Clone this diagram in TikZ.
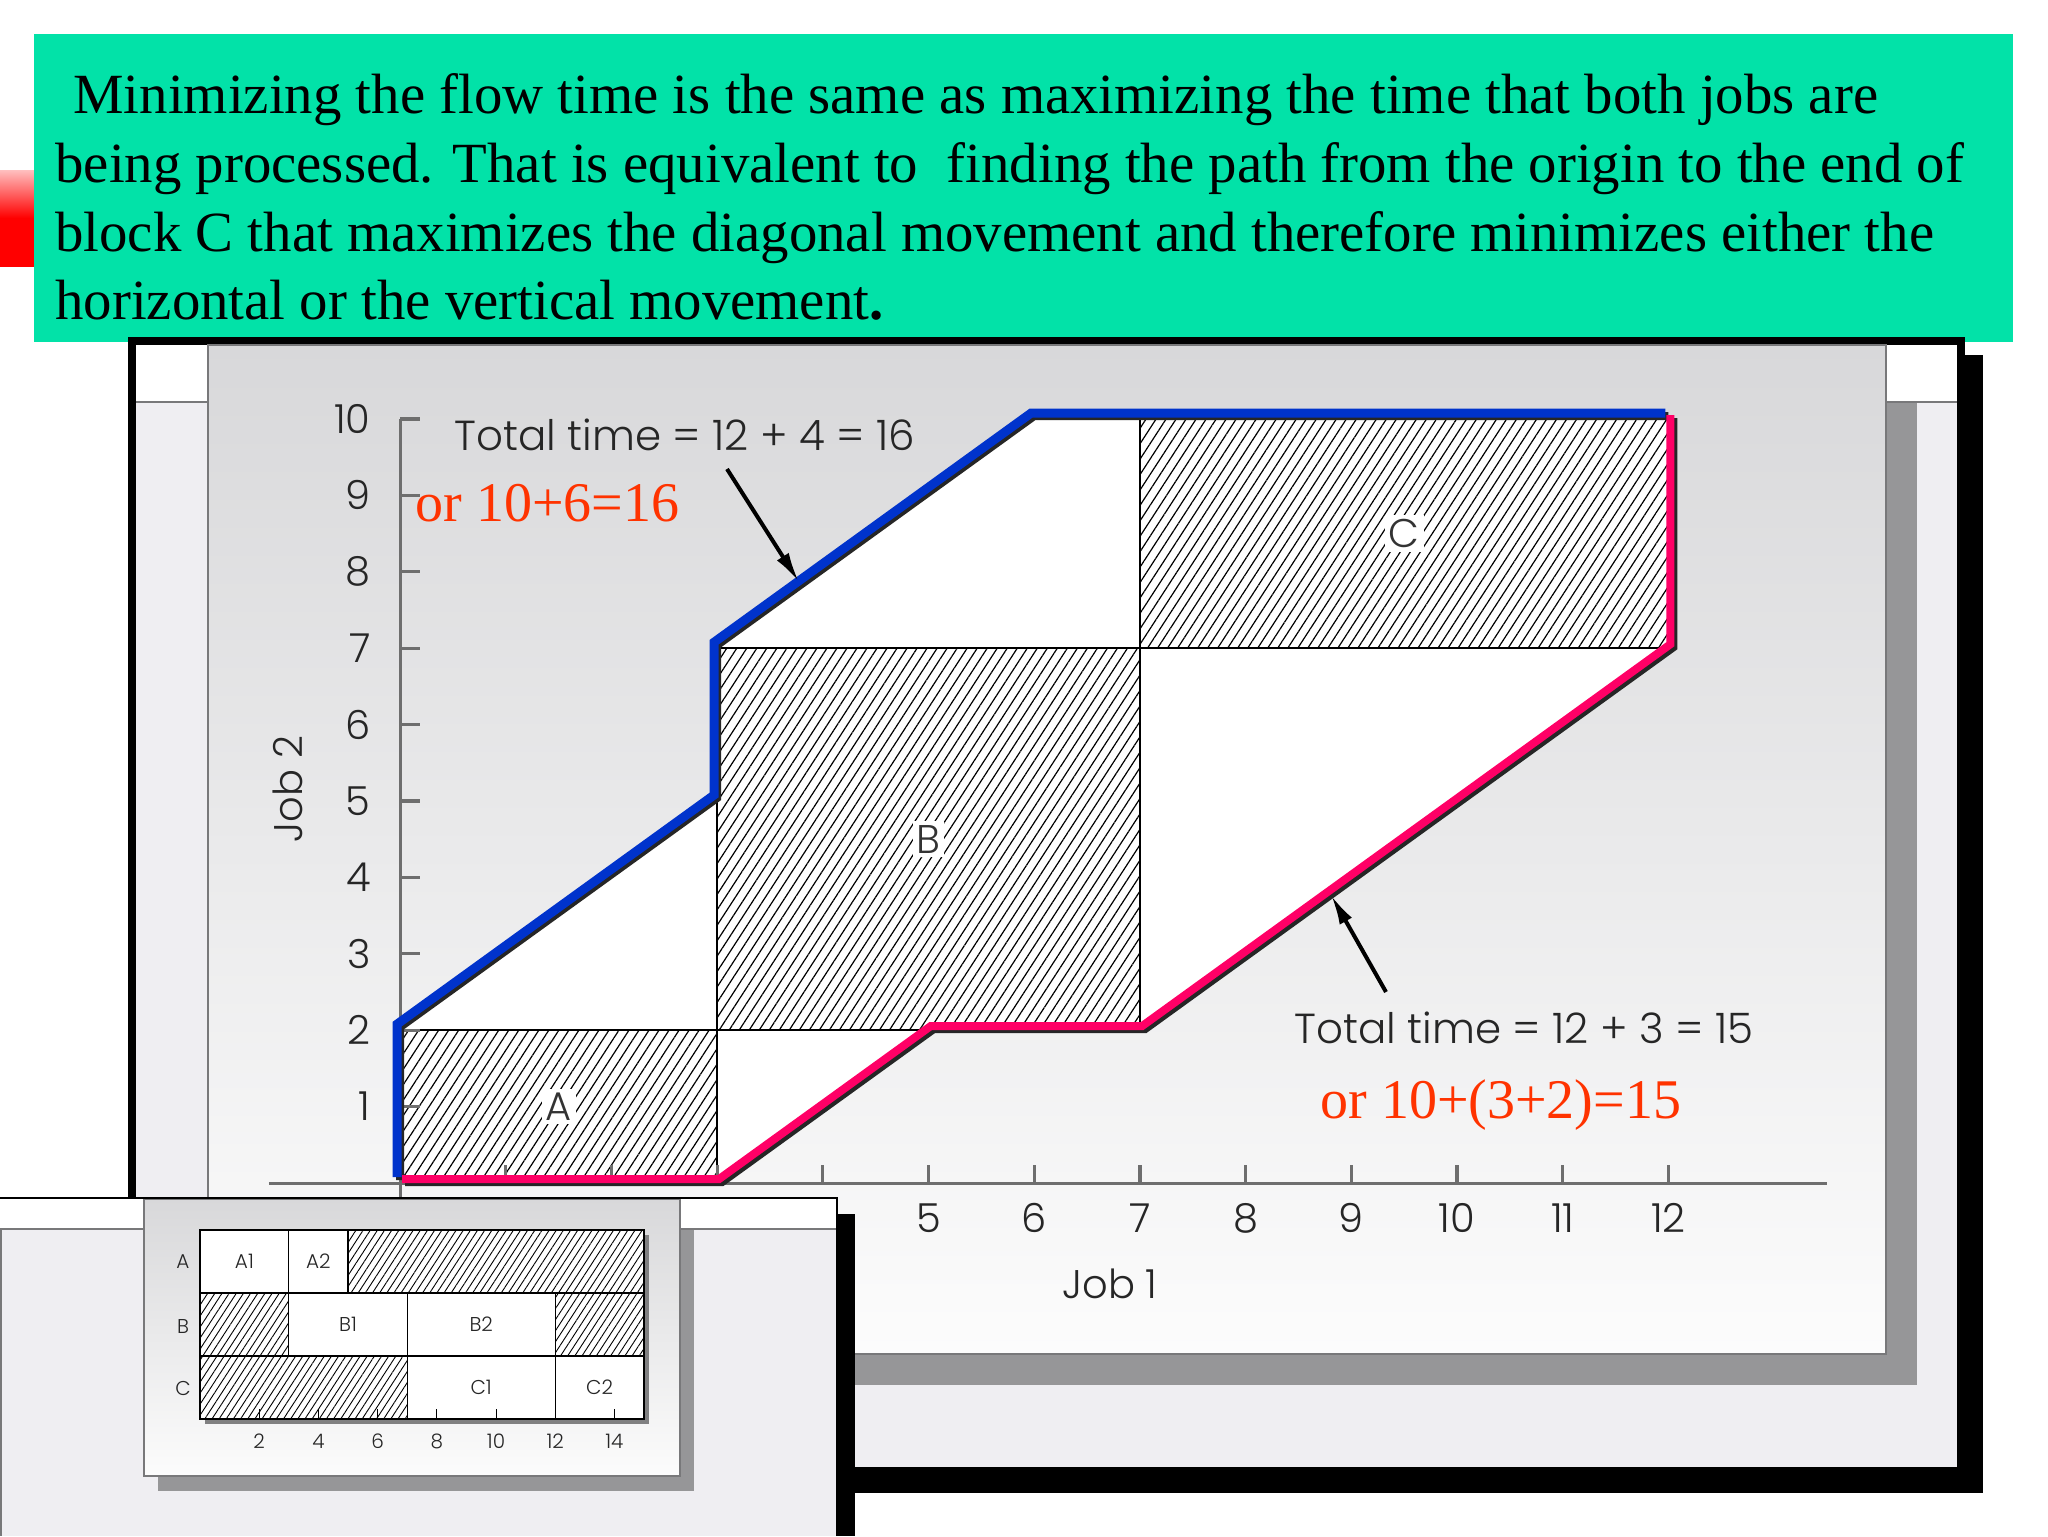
\documentclass[tikz,border=0pt]{standalone}
\usepackage{fontspec}
\setmainfont{Liberation Serif}
\newfontfamily\chartfont{Poppins Light}
\usetikzlibrary{arrows.meta,patterns.meta}
\definecolor{slidegreen}{RGB}{2,226,168}
\definecolor{pathblue}{RGB}{0,51,204}
\definecolor{pathred}{RGB}{255,0,102}
\definecolor{notered}{RGB}{255,51,0}
\definecolor{bglight}{RGB}{239,238,242}
\definecolor{shadowgray}{RGB}{150,150,152}
\definecolor{paneltop}{RGB}{216,216,218}
\definecolor{panelbot}{RGB}{252,252,252}
\definecolor{axisgray}{RGB}{110,110,110}
\definecolor{edgegray}{RGB}{120,120,122}
\begin{document}
\begin{tikzpicture}[x=0.5pt,y=-0.5pt,
  hdr/.style={anchor=base west,inner sep=0pt,font=\fontsize{28.4pt}{34pt}\selectfont},
  note/.style={anchor=base west,inner sep=0pt,text=notered,font=\fontsize{28pt}{33pt}\selectfont},
  ctext/.style={anchor=base west,inner sep=0pt,text=black!85,font=\chartfont\fontsize{21pt}{25pt}\selectfont},
  ticklab/.style={inner sep=0pt,text=black!85,font=\chartfont\fontsize{20pt}{24pt}\selectfont},
  blocklab/.style={fill=white,inner sep=2pt,text=black!80,font=\chartfont\fontsize{20pt}{24pt}\selectfont},
  smalllab/.style={inner sep=0pt,text=black!85,font=\chartfont\fontsize{10pt}{12pt}\selectfont},
  hatchbox/.style={draw=black,line width=1.1pt,preaction={fill=white},pattern={Lines[angle=57,distance=4.2pt,line width=0.6pt]},pattern color=black},
  smallhatch/.style={draw=black,line width=0.6pt,preaction={fill=white},pattern={Lines[angle=57,distance=3pt,line width=0.45pt]},pattern color=black},
  whitecell/.style={draw=black,line width=0.6pt,fill=white},
  axisline/.style={draw=axisgray,line width=1.5pt},
  tickline/.style={draw=axisgray,line width=1.6pt},
  bluepath/.style={draw=pathblue,line width=4.5pt,line join=miter},
  redpath/.style={draw=pathred,line width=4pt,line join=miter},
  pathshade/.style={draw=black!85,line width=4pt,line join=miter},
  callout/.style={draw=black,line width=2pt,-{Latex[length=15pt,width=7pt]}}
]
\useasboundingbox (0,0) rectangle (2048,1536);
\fill[white] (0,0) rectangle (2048,1536);

% red tab and green header
\shade[top color=red!25!white, bottom color=red, middle color=red] (0,170) rectangle (40,266);
\fill[slidegreen] (34,34) rectangle (2013,342);
\node[hdr] (l1) at (73,113) {Minimizing the flow time is the same as maximizing the time that both jobs are};
\node[hdr] (l2) at (55,182) {being processed. That is equivalent to~ finding the path from the origin to the end of};
\node[hdr] (l3) at (55,251) {block C that maximizes the diagonal movement and therefore minimizes either the};
\node[hdr] (l4) at (55,319) {horizontal or the vertical movement\textbf{.}};

% big frame
\fill[black] (146,355) rectangle (1983,1493);
\fill[black] (128,337) rectangle (1965,1475);
\fill[bglight] (136,345) rectangle (1957,1467);
\fill[shadowgray] (238,375) rectangle (1917,1385);
\fill[white] (136,345) rectangle (1957,402);
\draw[edgegray,line width=1.2pt] (136,402) -- (1957,402);
\shade[top color=paneltop,bottom color=panelbot] (208,345) rectangle (1886,1354);
\draw[edgegray,line width=1.2pt] (208,345) rectangle (1886,1354);

% chart
\begin{scope}[shift={(400,1183)},x=52.85pt,y=38.2pt]
  \fill[white] (0,0) -- (0,2) -- (3,5) -- (3,7) -- (6,10) -- (12,10) -- (12,7) -- (7,2) -- (5,2) -- (3,0) -- cycle;
  \path[hatchbox] (0,0) rectangle (3,2);
  \path[hatchbox] (3,2) rectangle (7,7);
  \path[hatchbox] (7,7) rectangle (12,10);
  \node[blocklab] (labA) at (1.5,1) {A};
  \node[blocklab] (labB) at (5,4.5) {B};
  \node[blocklab] (labC) at (9.5,8.5) {C};
  % axes
  \draw[axisline] (-1.24,0) -- (13.5,0);
  \draw[axisline] (0,-0.2) -- (0,10);
  \foreach \u in {1,...,12} \draw[tickline] (\u,0) -- ++(0pt,9pt);
  \foreach \v in {1,...,10} \draw[tickline] (0,\v) -- ++(10pt,0pt);
  % paths
  \draw[pathshade,shift={(0pt,1.5pt)}] (0,0) -- (0,2) -- (3,5) -- (3,7) -- (6,10) -- (12,10);
  \draw[bluepath,shift={(-1.5pt,3pt)}] (0,0) -- (0,2) -- (3,5) -- (3,7) -- (6,10) -- (12,10);
  \draw[pathshade,shift={(2.5pt,0.5pt)}] (0,0) -- (3,0) -- (5,2) -- (7,2) -- (12,7) -- (12,10);
  \draw[redpath,shift={(1pt,2pt)}] (0,0) -- (3,0) -- (5,2) -- (7,2) -- (12,7) -- (12,10);
\end{scope}

% axis labels
\foreach \u in {5,...,12} \node[ticklab] (xl\u) at ({400+105.7*\u},1218) {\u};
\foreach \v in {1,...,10} \node[ticklab,anchor=east] (yl\v) at (371,{1183-76.4*\v}) {\v};
\node[ticklab,rotate=90] (job2) at (288,789) {Job 2};
\node[ticklab] (job1) at (1110,1284) {Job 1};

% annotations
\node[ctext] (tt1) at (454,450) {Total time = 12 + 4 = 16};
\node[note] (or1) at (415,521) {or 10+6=16};
\node[ctext] (tt2) at (1294,1043) {Total time = 12 + 3 = 15};
\node[note] (or2) at (1320,1118) {or 10+(3+2)=15};
\coordinate (a1tail) at (727,469);
\coordinate (a1tip) at (799,582);
\draw[callout] (a1tail) -- (a1tip);
\coordinate (a2tail) at (1386,992);
\coordinate (a2tip) at (1331,895);
\draw[callout] (a2tail) -- (a2tip);

% inset
\fill[black] (18,1214) rectangle (855,1536);
\fill[bglight] (0,1198) rectangle (837,1536);
\fill[shadowgray] (158,1213) rectangle (694,1491);
\fill[white] (0,1198) rectangle (837,1229);
\draw[edgegray,line width=1pt] (0,1229) -- (837,1229);
\draw[edgegray,line width=1pt] (1,1229) -- (1,1536);
\shade[top color=paneltop,bottom color=panelbot] (144,1199) rectangle (680,1476);
\draw[edgegray,line width=0.8pt] (144,1199) rectangle (680,1476);
\draw[black,line width=1.2pt] (0,1198) -- (837,1198) -- (837,1536);

\begin{scope}[shift={(200,1419)},x=14.8pt,y=31.5pt]
  \fill[shadowgray!85!black,shift={(2.5pt,-2.5pt)}] (0,0) rectangle (15,3);
  \path[whitecell] (0,2) rectangle (3,3);
  \path[whitecell] (3,2) rectangle (5,3);
  \path[smallhatch] (5,2) rectangle (15,3);
  \path[smallhatch] (0,1) rectangle (3,2);
  \path[whitecell] (3,1) rectangle (7,2);
  \path[whitecell] (7,1) rectangle (12,2);
  \path[smallhatch] (12,1) rectangle (15,2);
  \path[smallhatch] (0,0) rectangle (7,1);
  \path[whitecell] (7,0) rectangle (12,1);
  \path[whitecell] (12,0) rectangle (15,1);
  \foreach \t in {2,4,...,14} \draw[black,line width=0.5pt] (\t,0) -- ++(0pt,5pt);
  \node[smalllab] (A1) at (1.5,2.5) {A1};
  \node[smalllab] (A2) at (4,2.5) {A2};
  \node[smalllab] (B1) at (5,1.5) {B1};
  \node[smalllab] (B2) at (9.5,1.5) {B2};
  \node[smalllab] (C1) at (9.5,0.5) {C1};
  \node[smalllab] (C2) at (13.5,0.5) {C2};
\end{scope}
\node[smalllab] (rA) at (183,1262) {A};
\node[smalllab] (rB) at (183,1326) {B};
\node[smalllab] (rC) at (183,1388) {C};
\foreach \t in {2,4,...,14} \node[smalllab] (it\t) at ({200+29.6*\t},1441) {\t};
\end{tikzpicture}
\end{document}
